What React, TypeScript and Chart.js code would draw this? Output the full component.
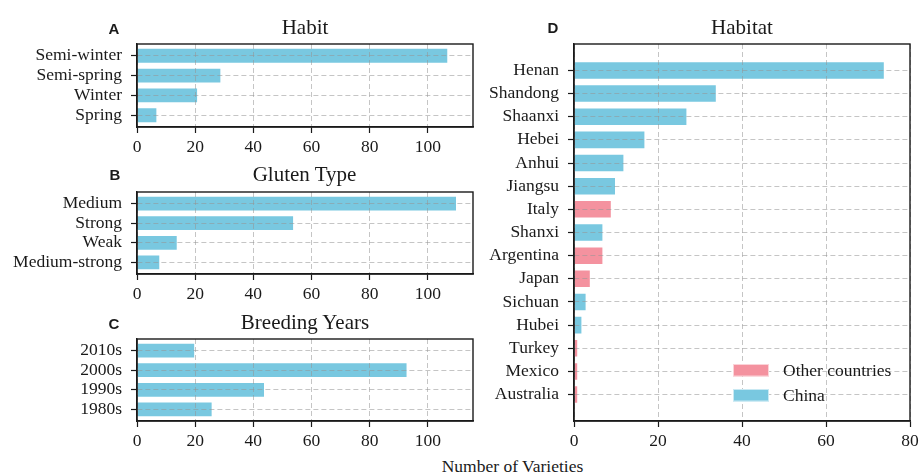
import React, { useEffect, useRef } from 'react';
import { Chart, registerables } from 'chart.js';

Chart.register(...registerables);

// ---------- data ----------
const habitLabels = ['Semi-winter', 'Semi-spring', 'Winter', 'Spring'];
const habitValues = [107, 29, 21, 7];

const glutenLabels = ['Medium', 'Strong', 'Weak', 'Medium-strong'];
const glutenValues = [110, 54, 14, 8];

const yearLabels = ['2010s', '2000s', '1990s', '1980s'];
const yearValues = [20, 93, 44, 26];

const habitatLabels = ['Henan', 'Shandong', 'Shaanxi', 'Hebei', 'Anhui', 'Jiangsu', 'Italy', 'Shanxi', 'Argentina', 'Japan', 'Sichuan', 'Hubei', 'Turkey', 'Mexico', 'Australia'];
const habitatValues = [74, 34, 27, 17, 12, 10, 9, 7, 7, 4, 3, 2, 1, 1, 1];
const habitatOrigin = ['China', 'China', 'China', 'China', 'China', 'China', 'Other countries', 'China', 'Other countries', 'Other countries', 'China', 'China', 'Other countries', 'Other countries', 'Other countries'];
const legendOrder = ['Other countries', 'China'];

const leftTicks = [0, 20, 40, 60, 80, 100];
const habitatTicks = [0, 20, 40, 60, 80];
const leftMax = 115.5;
const habitatMax = 80;

// ---------- styles ----------
const BLUE = '#79c8e0';
const PINK = '#f4929f';
const TEXT = '#1a1a1a';
const SERIF = "'Liberation Serif', 'Times New Roman', serif";
const FONT_SIZE = 17.5;
const TOP_PAD = 24;
const colorFor: Record<string, string> = { 'China': BLUE, 'Other countries': PINK };

const framePlugin = {
  id: 'frame',
  afterDraw(chart: any) {
    const { ctx, chartArea } = chart;
    ctx.save();
    ctx.strokeStyle = TEXT;
    ctx.lineWidth = 1.4;
    ctx.strokeRect(chartArea.left, chartArea.top, chartArea.right - chartArea.left, chartArea.bottom - chartArea.top);
    ctx.restore();
  },
};

const innerLegendPlugin = {
  id: 'innerLegend',
  afterDraw(chart: any) {
    const { ctx, chartArea } = chart;
    ctx.save();
    chart.data.datasets.forEach((ds: any, i: number) => {
      const boxLeft = chartArea.right - 177;
      const boxTop = chartArea.bottom - 57 + i * 25;
      ctx.fillStyle = ds.backgroundColor;
      ctx.fillRect(boxLeft, boxTop, 36, 12.5);
      ctx.strokeStyle = 'rgba(255,255,255,0.6)';
      ctx.lineWidth = 1;
      ctx.strokeRect(boxLeft + 0.5, boxTop + 0.5, 35, 11.5);
      ctx.fillStyle = TEXT;
      ctx.font = `${FONT_SIZE}px ${SERIF}`;
      ctx.textBaseline = 'middle';
      ctx.textAlign = 'left';
      ctx.fillText(ds.label, boxLeft + 50, boxTop + 7);
    });
    ctx.restore();
  },
};

function buildConfig(labels: string[], datasets: any[], xTicks: number[], xMax: number, yWidth: number, padRight: number, withLegend: boolean) {
  const n = labels.length;
  const span = n - 1 + 0.8;
  const margin = 0.05 * span;
  const gridColor = 'rgba(150,150,150,0.55)';
  return {
    type: 'bar',
    data: { datasets },
    plugins: withLegend ? [framePlugin, innerLegendPlugin] : [framePlugin],
    options: {
      animation: false,
      responsive: false,
      maintainAspectRatio: false,
      indexAxis: 'y',
      events: [],
      layout: { padding: { top: TOP_PAD, right: padRight, left: 0, bottom: 0 } },
      plugins: { legend: { display: false }, tooltip: { enabled: false }, title: { display: false } },
      scales: {
        x: {
          type: 'linear',
          min: 0,
          max: xMax,
          offset: false,
          beginAtZero: true,
          afterBuildTicks: (scale: any) => { scale.ticks = xTicks.map((v) => ({ value: v })); },
          afterFit: (scale: any) => { scale.height = 29; scale.paddingLeft = 0; scale.paddingRight = 0; },
          ticks: { color: TEXT, font: { family: SERIF, size: FONT_SIZE }, padding: 4, maxRotation: 0, autoSkip: false },
          grid: { offset: false, color: gridColor, lineWidth: 1, z: 1, drawTicks: true, tickLength: 6, tickColor: TEXT, tickWidth: 1.2 },
          border: { display: true, color: TEXT, width: 1.4, dash: [5, 3], z: 2 },
        },
        y: {
          type: 'linear',
          reverse: true,
          offset: false,
          beginAtZero: false,
          min: -0.4 - margin,
          max: n - 1 + 0.4 + margin,
          afterBuildTicks: (scale: any) => { scale.ticks = labels.map((_, i) => ({ value: i })); },
          afterFit: (scale: any) => { scale.width = yWidth; scale.paddingTop = 0; scale.paddingBottom = 0; },
          ticks: { color: TEXT, font: { family: SERIF, size: FONT_SIZE }, padding: 9, autoSkip: false, callback: (v: any) => labels[Math.round(v)] ?? '' },
          grid: { offset: false, color: gridColor, lineWidth: 1, z: 1, drawTicks: true, tickLength: 6, tickColor: TEXT, tickWidth: 1.2 },
          border: { display: true, color: TEXT, width: 1.4, dash: [5, 3], z: 2 },
        },
      },
    },
  };
}

function barDataset(label: string, values: number[], indices: number[], color: string) {
  return {
    label,
    data: indices.map((i) => ({ x: values[i], y: i })),
    backgroundColor: color,
    borderColor: 'rgba(255,255,255,0.6)',
    borderWidth: 1,
    barPercentage: 0.8,
    categoryPercentage: 1,
    grouped: false,
  };
}

function ChartCanvas({ config, left, top, width, height }: any) {
  const ref = useRef<HTMLCanvasElement | null>(null);
  useEffect(() => {
    if (!ref.current) return;
    const chart = new Chart(ref.current, config);
    return () => chart.destroy();
  }, []);
  return (
    <canvas ref={ref} width={width} height={height}
      style={{ position: 'absolute', left, top, width, height }} />
  );
}

function Label({ text, x, y, size, bold, sans }: any) {
  return (
    <div style={{
      position: 'absolute', left: x, top: y, transform: 'translate(-50%, -50%)',
      fontFamily: sans ? "'Liberation Sans', Arial, sans-serif" : SERIF,
      fontSize: size, fontWeight: bold ? 700 : 400, lineHeight: 1, whiteSpace: 'nowrap', color: TEXT,
    }}>{text}</div>
  );
}

export default function App() {
  const all = (arr: any[]) => arr.map((_, i) => i);
  const cfgA = buildConfig(habitLabels, [barDataset('Habit', habitValues, all(habitValues), BLUE)], leftTicks, leftMax, 137, 12, false);
  const cfgB = buildConfig(glutenLabels, [barDataset('Gluten Type', glutenValues, all(glutenValues), BLUE)], leftTicks, leftMax, 137, 12, false);
  const cfgC = buildConfig(yearLabels, [barDataset('Breeding Years', yearValues, all(yearValues), BLUE)], leftTicks, leftMax, 137, 12, false);
  const dsD = legendOrder.map((name) =>
    barDataset(name, habitatValues, all(habitatValues).filter((i) => habitatOrigin[i] === name), colorFor[name]));
  const cfgD = buildConfig(habitatLabels, dsD, habitatTicks, habitatMax, 94, 9, true);

  return (
    <div style={{ position: 'absolute', left: 0, top: 0, width: 919, height: 475, background: '#fff', overflow: 'hidden' }}>
      <ChartCanvas config={cfgA} left={0} top={44 - TOP_PAD} width={485} height={TOP_PAD + 83 + 29} />
      <ChartCanvas config={cfgB} left={0} top={192 - TOP_PAD} width={485} height={TOP_PAD + 82 + 29} />
      <ChartCanvas config={cfgC} left={0} top={339 - TOP_PAD} width={485} height={TOP_PAD + 82 + 29} />
      <ChartCanvas config={cfgD} left={480} top={44 - TOP_PAD} width={439} height={TOP_PAD + 377 + 29} />
      <Label text="A" x={114} y={27.5} size={15} bold sans />
      <Label text="Habit" x={305} y={26.7} size={21} />
      <Label text="B" x={115} y={174} size={15} bold sans />
      <Label text="Gluten Type" x={304.5} y={174} size={21} />
      <Label text="C" x={114} y={323} size={15} bold sans />
      <Label text="Breeding Years" x={305} y={321.7} size={21} />
      <Label text="D" x={553} y={27} size={15} bold sans />
      <Label text="Habitat" x={742} y={27} size={21} />
      <Label text="Number of Varieties" x={512.5} y={466.7} size={FONT_SIZE} />
    </div>
  );
}
